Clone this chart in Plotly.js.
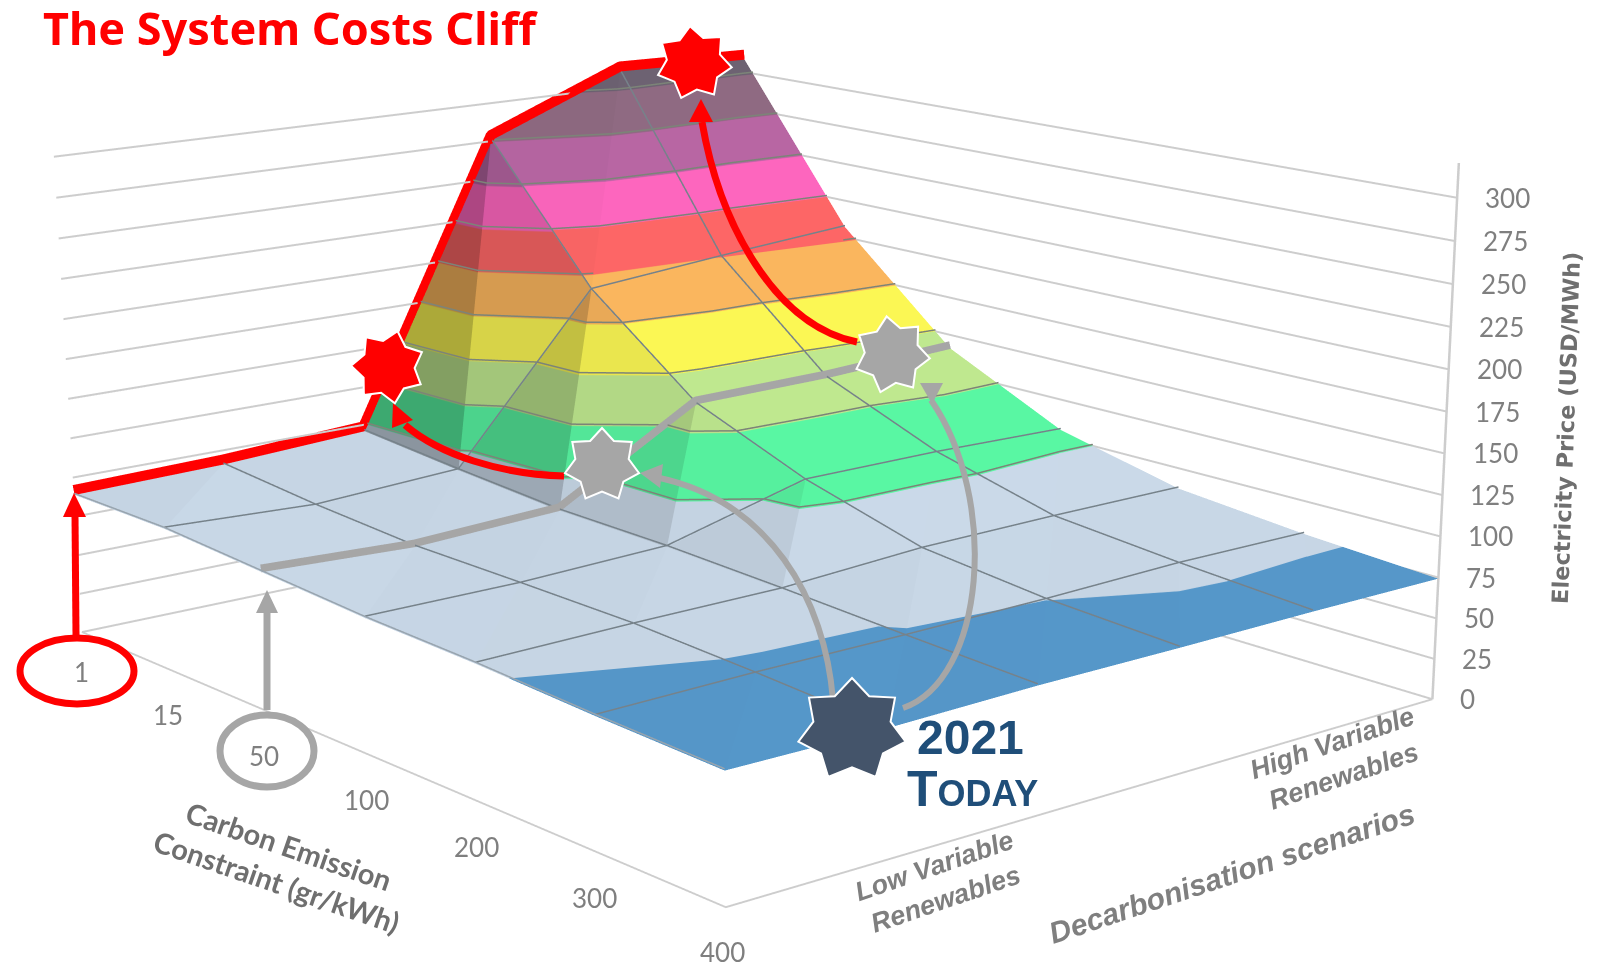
<!DOCTYPE html>
<html>
<head>
<meta charset="utf-8">
<title>The System Costs Cliff</title>
<script src="https://cdn.plot.ly/plotly-3.0.1.min.js"></script>
<style>
  html, body { margin: 0; padding: 0; background: #fff; overflow: hidden; }
  #frame { position: fixed; left: 0; top: 0; width: 1598px; height: 970px; overflow: hidden; }
  #chart { position: absolute; left: 0; top: -922px; width: 1640px; height: 3198px; }
</style>
</head>
<body>
<div id="frame"><div id="chart"></div></div>
<script>
// Axis categories
const carbonLabels = ['1', '15', '50', '100', '200', '300', '400'];
const priceTicks = [0, 25, 50, 75, 100, 125, 150, 175, 200, 225, 250, 275, 300];

// Electricity price (USD/MWh) per carbon constraint, low to high variable renewables
const priceAt1   = [89, 91, 96, 276, 311, 309];
const priceAt15  = [89, 85, 90, 192, 200, 207];
const priceAt50  = [85, 81, 85, 136, 137, 141];
const priceAt100 = [81, 81, 84, 107, 107, 105];
const priceAt200 = [79, 80.5, 81, 86, 87, 87];
const priceAt300 = [75.5, 77, 77.2, 78, 80, 79.5];
const priceAt400 = [73, 72.5, 74, 74, 74.5, 74.3];

const priceRows = [priceAt1, priceAt15, priceAt50, priceAt100, priceAt200, priceAt300, priceAt400];
const scenarioIdx = priceAt1.map((_, i) => i);
const carbonIdx = carbonLabels.map((_, i) => i);
const lastCarbon = carbonIdx.length - 1;
const lastScenario = scenarioIdx.length - 1;
const priceAxisTop = 320;

// Price bands
const bandEdges = [0, 78, 100, 125, 150, 175, 200, 225, 250, 275, 300, 325];
const bandColours = ['#5596c8', '#c6d5e4', '#57f2a0', '#bbe38c', '#f6f252', '#f5b25c',
                     '#f86464', '#f864ba', '#b464a0', '#8c687f', '#6b6070'];

function shade(hex, f) {
  const ch = [1, 3, 5].map(i => Math.min(255, Math.round(parseInt(hex.substr(i, 2), 16) * f)));
  return 'rgb(' + ch.join(',') + ')';
}

// Colour stops of the bands that fall inside [lo, hi], toned by the facet's light
function bandScale(lo, hi, tone) {
  const stops = [];
  bandColours.forEach((c, i) => {
    const a = Math.max(bandEdges[i], lo), b = Math.min(bandEdges[i + 1], hi);
    if (b > a) {
      const col = shade(c, tone);
      stops.push([(a - lo) / (hi - lo), col], [(b - lo) / (hi - lo), col]);
    }
  });
  return stops;
}

// Flat Lambert tone of one triangular facet
const sceneAspect = { x: 1.663, y: 1.3978, z: 0.829 };
const zScale = sceneAspect.z / priceAxisTop;
const gxScale = zScale / (sceneAspect.x / lastCarbon);
const gyScale = zScale / (sceneAspect.y / lastScenario);
const light = [0.5, 0.6, 0.62];

function facetTone(dzCarbon, dzScenario) {
  const nx = -dzCarbon * gxScale, ny = -dzScenario * gyScale;
  const len = Math.sqrt(nx * nx + ny * ny + 1);
  const lit = (nx * light[0] + ny * light[1] + light[2]) / len;
  return lit < light[2] ? Math.max(0.68, 1 - 0.375 * (light[2] - lit))
                        : Math.min(1.02, 1 + 0.25 * (lit - light[2]));
}

const height = p => priceRows[p[0]][p[1]];

function facetTrace(pts, dzCarbon, dzScenario) {
  const z = pts.map(height);
  const lo = Math.min.apply(null, z) - 1, hi = Math.max.apply(null, z) + 1;
  return {
    type: 'mesh3d', hoverinfo: 'skip', flatshading: true, showscale: false,
    x: pts.map(p => p[0]), y: pts.map(p => p[1]), z, i: [0], j: [1], k: [2],
    intensity: z, intensitymode: 'vertex', cmin: lo, cmax: hi,
    colorscale: bandScale(lo, hi, facetTone(dzCarbon, dzScenario)),
    lighting: { ambient: 1, diffuse: 0, specular: 0, roughness: 1, fresnel: 0 }
  };
}

// Where a price level cuts a facet: one segment of the band outline
function levelSegment(pts, level) {
  const out = [];
  for (let a = 0; a < 3; a++) {
    const p = pts[a], q = pts[(a + 1) % 3], zp = height(p), zq = height(q);
    if ((zp - level) * (zq - level) < 0) {
      const t = (level - zp) / (zq - zp);
      out.push([p[0] + t * (q[0] - p[0]), p[1] + t * (q[1] - p[1])]);
    }
  }
  return out.length === 2 ? out : null;
}

// Page pixels to paper fractions of the oversized plot area
const W = 1640, H = 3198, TOP = -922;
const px = x => x / W;
const py = y => 1 - (y - TOP) / H;
const pt = (x, y) => px(x) + ',' + py(y);

function curve(a, c1, c2, b) {
  return 'M' + pt(a[0], a[1]) + ' C' + pt(c1[0], c1[1]) + ' ' + pt(c2[0], c2[1]) + ' ' + pt(b[0], b[1]);
}
function polygon(points) {
  return 'M' + points.map(p => pt(p[0], p[1])).join(' L') + ' Z';
}
function star(cx, cy, rx, ry, rot) {
  const pts = [];
  for (let i = 0; i < 14; i++) {
    const a = (rot + i * 180 / 7 - 90) * Math.PI / 180;
    const k = i % 2 ? 0.72 : 1;
    pts.push([cx + rx * k * Math.cos(a), cy + ry * k * Math.sin(a)]);
  }
  return polygon(pts);
}
function ellipse(cx, cy, rx, ry) {
  const k = 0.5523;
  return 'M' + pt(cx - rx, cy) +
    ' C' + pt(cx - rx, cy - k * ry) + ' ' + pt(cx - k * rx, cy - ry) + ' ' + pt(cx, cy - ry) +
    ' C' + pt(cx + k * rx, cy - ry) + ' ' + pt(cx + rx, cy - k * ry) + ' ' + pt(cx + rx, cy) +
    ' C' + pt(cx + rx, cy + k * ry) + ' ' + pt(cx + k * rx, cy + ry) + ' ' + pt(cx, cy + ry) +
    ' C' + pt(cx - k * rx, cy + ry) + ' ' + pt(cx - rx, cy + k * ry) + ' ' + pt(cx - rx, cy) + ' Z';
}

const RED = '#ff0000', GREY = '#a6a6a6', NAVY = '#44546a';
const stroke = (path, color, width) => ({
  type: 'path', xref: 'paper', yref: 'paper', layer: 'above', path,
  line: { color, width }, fillcolor: 'rgba(0,0,0,0)'
});
const solid = (path, color) => ({
  type: 'path', xref: 'paper', yref: 'paper', layer: 'above', path,
  line: { width: 0 }, fillcolor: color
});
const starShape = (path, color) => ({
  type: 'path', xref: 'paper', yref: 'paper', layer: 'above', path,
  line: { color: '#ffffff', width: 2 }, fillcolor: color
});

const shapes = [
  // Constraint markers on the carbon axis
  stroke(ellipse(77, 671, 57, 33), RED, 7),
  stroke(ellipse(267, 751, 47, 36), GREY, 7),
  stroke('M' + pt(76, 635) + ' L' + pt(75, 515), RED, 7),
  solid(polygon([[74, 493], [63, 517], [86, 517]]), RED),
  stroke('M' + pt(267, 710) + ' L' + pt(267, 610), GREY, 7),
  solid(polygon([[267, 590], [256, 613], [278, 613]]), GREY),
  // Moves between the scenarios
  stroke(curve([833, 700], [825, 600], [770, 500], [655, 477]), GREY, 6),
  solid(polygon([[640, 473], [663, 464], [660, 488]]), GREY),
  stroke(curve([903, 708], [985, 680], [1000, 500], [931, 400]), GREY, 6),
  solid(polygon([[920, 383], [943, 383], [932, 404]]), GREY),
  stroke(curve([857, 342], [775, 325], [720, 225], [702, 122]), RED, 7),
  solid(polygon([[701, 99], [689, 122], [713, 122]]), RED),
  stroke(curve([564, 476], [500, 474], [440, 455], [405, 425]), RED, 7),
  solid(polygon([[393, 403], [392, 428], [413, 420]]), RED),
  // Scenario stars
  starShape(star(602, 465, 38, 37, 0), GREY),
  starShape(star(892, 355, 38, 39, -8), GREY),
  starShape(star(388, 367, 37, 37, 15), RED),
  starShape(star(694, 63, 38, 37, -6), RED),
  starShape(star(852, 730, 55, 52, 0), NAVY)
];

const note = (x, y, text, font, extra) => Object.assign({
  xref: 'paper', yref: 'paper', x: px(x), y: py(y), text, font, showarrow: false,
  xanchor: 'center', yanchor: 'middle', align: 'center'
}, extra || {});

const tickFont = { family: 'Lato, sans-serif', size: 26, color: '#7f7f7f' };
const titleFont = { family: 'Lato, sans-serif', size: 29, color: '#6f6f6f', weight: 700 };
const skewFont = { family: 'Liberation Sans, sans-serif', size: 27, color: '#7f7f7f', weight: 700, style: 'italic' };

const annotations = [
  note(41, 27, 'The System Costs Cliff', { family: 'Noto Sans, sans-serif', size: 45, color: RED, weight: 700 }, { xanchor: 'left' }),
  note(970, 737, '2021', { family: 'Liberation Sans, sans-serif', size: 48, color: '#1f4e79', weight: 700 }),
  note(972, 789, 'T<span style="font-size:36px">ODAY</span>', { family: 'Liberation Sans, sans-serif', size: 50, color: '#1f4e79', weight: 700 }),
  note(282, 864, 'Carbon Emission<br>Constraint (gr/kWh)', titleFont, { textangle: 19 }),
  note(1566, 428, 'Electricity Price (USD/MWh)', { family: 'DejaVu Sans, sans-serif', size: 22.5, color: '#6f6f6f', weight: 700 }, { textangle: -88 }),
  note(940, 882, 'Low Variable<br>Renewables', skewFont, { textangle: -19 }),
  note(1338, 759, 'High Variable<br>Renewables', skewFont, { textangle: -19 }),
  note(1231, 873, 'Decarbonisation scenarios', { family: 'Liberation Sans, sans-serif', size: 30, color: '#7f7f7f', weight: 700, style: 'italic' }, { textangle: -18.5 })
];

// Axis tick labels, anchored in the scene's own coordinates
const sceneNotes = carbonLabels.map((t, i) => ({
  x: i, y: 0, z: 0, text: t, showarrow: false, font: tickFont,
  xanchor: 'center', yanchor: 'middle', xshift: i ? -3 : 0, yshift: i ? -45 : -40
})).concat(priceTicks.map(v => ({
  x: lastCarbon, y: lastScenario, z: v, text: String(v), showarrow: false, font: tickFont,
  xanchor: 'left', yanchor: 'middle', xshift: 26, yshift: 0
})));

const hiddenAxis = {
  showgrid: false, zeroline: false, showticklabels: false, ticks: '', showspikes: false,
  showbackground: false, showline: true, linecolor: '#cdcdcd', linewidth: 4, title: { text: '' }
};

// Two facets per grid cell, split along the diagonal that runs up the cliff
const facetTraces = [];
const outline = { x: [], y: [], z: [] };
const LIFT = 1;
function addOutline(pts) {
  bandEdges.slice(2, -1).forEach(level => {
    const seg = levelSegment(pts, level);
    if (!seg) return;
    outline.x.push(seg[0][0], seg[1][0], null);
    outline.y.push(seg[0][1], seg[1][1], null);
    outline.z.push(level + LIFT, level + LIFT, null);
  });
}
carbonIdx.slice(0, lastCarbon).forEach(c => {
  scenarioIdx.slice(0, lastScenario).forEach(s => {
    const r0 = priceRows[c], r1 = priceRows[c + 1];
    const a = [[c, s], [c, s + 1], [c + 1, s]];
    const b = [[c + 1, s], [c, s + 1], [c + 1, s + 1]];
    facetTraces.push(facetTrace(a, r1[s] - r0[s], r0[s + 1] - r0[s]));
    facetTraces.push(facetTrace(b, r1[s + 1] - r0[s + 1], r1[s + 1] - r1[s]));
    addOutline(a);
    addOutline(b);
  });
});

// Surface grid: inner carbon levels and scenarios, the outer rim stays unlined
const gridLine = (x, y, z, color) => ({
  type: 'scatter3d', mode: 'lines', hoverinfo: 'skip', x, y, z: z.map(v => v + LIFT),
  line: { color, width: 3 }
});
const gridTraces = carbonIdx.slice(1, lastCarbon)
  .map(c => gridLine(scenarioIdx.map(() => c), scenarioIdx, priceRows[c], '#76828a'))
  .concat(scenarioIdx.slice(0, lastScenario)
    .map(s => gridLine(carbonIdx, carbonIdx.map(() => s), priceRows.map(r => r[s]), s ? '#76828a' : '#98a4ae')));

const traces = facetTraces.concat(gridTraces, [
  // Outlines of the price bands
  {
    type: 'scatter3d', mode: 'lines', hoverinfo: 'skip', connectgaps: false,
    x: outline.x, y: outline.y, z: outline.z,
    line: { color: '#7c8478', width: 3 }
  },
  // Path of the tightest constraint across the scenarios
  {
    type: 'scatter3d', mode: 'lines', hoverinfo: 'skip',
    x: scenarioIdx.map(() => 0), y: scenarioIdx, z: priceAt1.map(v => v + 3),
    line: { color: RED, width: 20 }
  },
  // Path of the 50 gr/kWh constraint across the scenarios
  {
    type: 'scatter3d', mode: 'lines', hoverinfo: 'skip',
    x: scenarioIdx.map(() => 2), y: scenarioIdx, z: priceAt50.map(v => v + 2),
    line: { color: GREY, width: 16 }
  },
  // Price axis line at the far right corner
  {
    type: 'scatter3d', mode: 'lines', hoverinfo: 'skip',
    x: [lastCarbon, lastCarbon], y: [lastScenario, lastScenario], z: [0, priceAxisTop],
    line: { color: '#cdcdcd', width: 5 }
  }
]);

const layout = {
  width: W, height: H, autosize: false,
  margin: { l: 0, r: 0, t: 0, b: 0, pad: 0 },
  paper_bgcolor: '#ffffff', showlegend: false, shapes, annotations,
  scene: {
    domain: { x: [0, 1], y: [0, 1] },
    aspectmode: 'manual', aspectratio: sceneAspect,
    camera: {
      eye: { x: 4.5331, y: -3.6822, z: 1.3758 },
      center: { x: 0.1777, y: 0.0191, z: -0.3967 },
      up: { x: 0, y: 0, z: 1 },
      projection: { type: 'perspective' }
    },
    xaxis: Object.assign({}, hiddenAxis, { range: [0, lastCarbon], tickvals: carbonIdx }),
    yaxis: Object.assign({}, hiddenAxis, { range: [0, lastScenario], tickvals: scenarioIdx }),
    zaxis: Object.assign({}, hiddenAxis, {
      range: [0, priceAxisTop], tickvals: priceTicks, showline: false,
      showgrid: true, gridcolor: '#cdcdcd', gridwidth: 4
    }),
    annotations: sceneNotes
  }
};

Plotly.newPlot('chart', traces, layout, { displayModeBar: false, responsive: false });
</script>
</body>
</html>
